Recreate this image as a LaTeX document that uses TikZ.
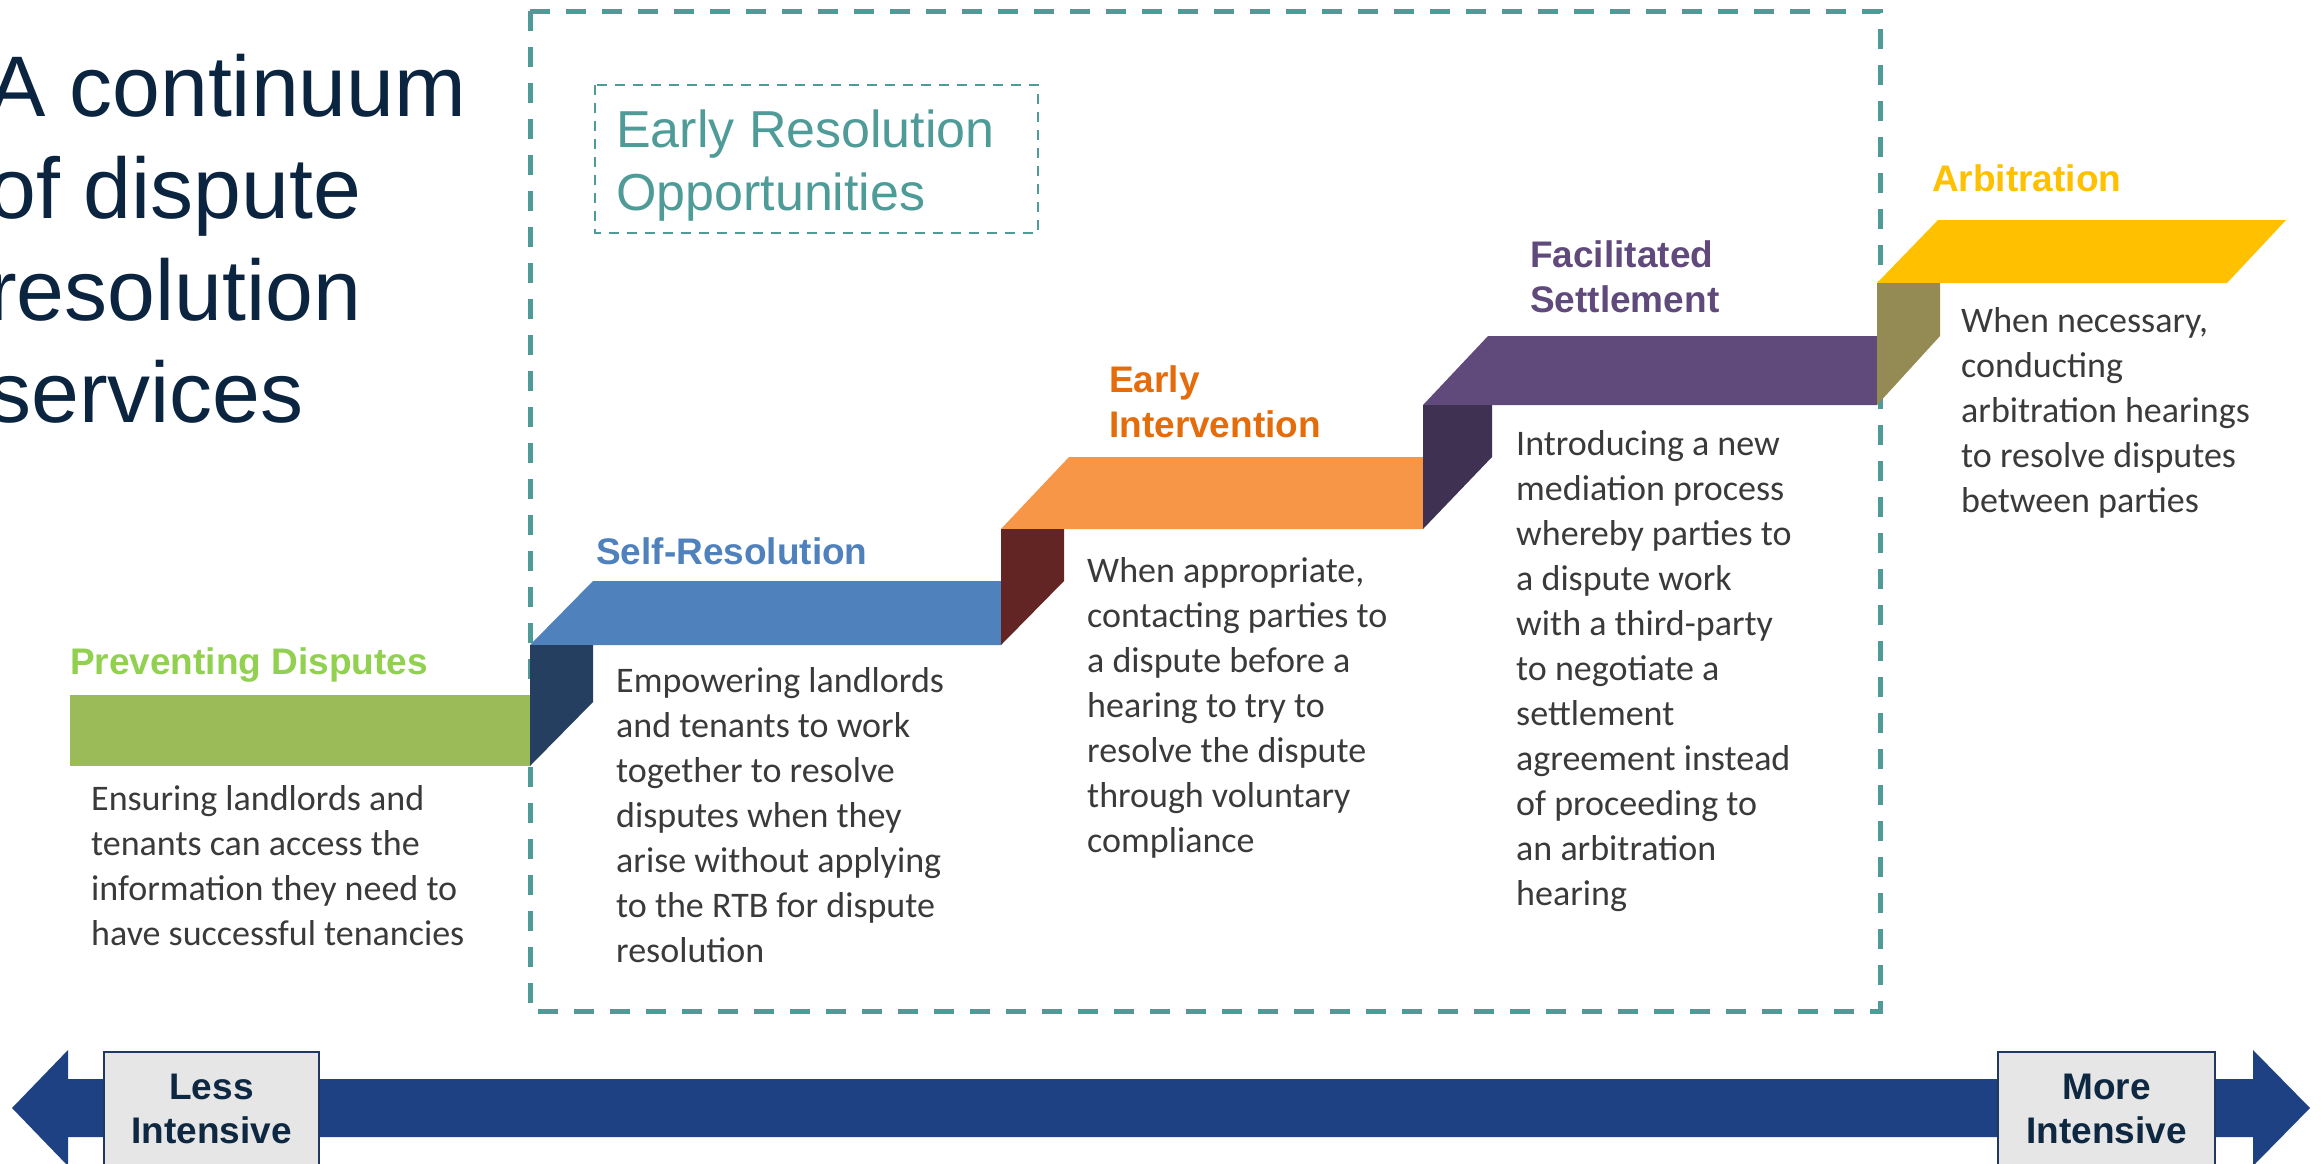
\documentclass[tikz,border=0pt]{standalone}
\usepackage{fontspec}
\setmainfont{Liberation Sans}
\newfontfamily\bodyfont{Carlito}

\definecolor{titlenavy}{HTML}{0B2540}
\definecolor{teal}{HTML}{4F9B98}
\definecolor{bodygray}{HTML}{3A3A3A}
\definecolor{arrownavy}{HTML}{1D4182}
\definecolor{boxnavy}{HTML}{1F3864}
\definecolor{boxgray}{HTML}{E6E6E6}
\definecolor{labelnavy}{HTML}{0E2841}
% step colours
\definecolor{greenface}{HTML}{9BBB59}
\definecolor{greenlabel}{HTML}{92D050}
\definecolor{navyriser}{HTML}{253F60}
\definecolor{blueface}{HTML}{4F81BD}
\definecolor{redriser}{HTML}{632523}
\definecolor{orangeface}{HTML}{F79646}
\definecolor{orangelabel}{HTML}{E46C0A}
\definecolor{purpleriser}{HTML}{3F3151}
\definecolor{purpleface}{HTML}{604A7B}
\definecolor{oliveriser}{HTML}{948A54}
\definecolor{yellowface}{HTML}{FFC000}

% multi-line nodes are placed by the baseline of their last line
\tikzset{
  txt/.style={inner sep=0pt, anchor=base west, align=left},
  body/.style={txt, font=\bodyfont\fontsize{36}{45}\selectfont, text=bodygray},
  steplabel/.style={txt, font=\bfseries\fontsize{37}{45}\selectfont},
  endbox/.style={draw=boxnavy, line width=2.5pt, fill=boxgray},
  endlabel/.style={inner sep=0pt, anchor=base, align=center,
    font=\bfseries\fontsize{37}{44}\selectfont, text=labelnavy},
}

\begin{document}
\begin{tikzpicture}[x=1pt,y=-1pt]
\useasboundingbox (0,0) rectangle (2323,1163);
\clip (0,0) rectangle (2323,1163);

% title
\node[txt, font=\fontsize{86}{102}\selectfont, text=titlenavy] (title) at (-12,422)
  {A continuum\\of dispute\\resolution\\services};

% early resolution frame
\draw[teal, line width=5pt, dash pattern=on 20pt off 16pt] (530,11) rectangle (1880,1011);
\draw[teal, line width=2.5pt, dash pattern=on 10pt off 8pt] (595,85) rectangle (1038,233);
\node[txt, font=\fontsize{52}{63}\selectfont, text=teal] (early) at (616,210)
  {Early Resolution\\Opportunities};

% staircase ribbon
\fill[greenface] (70,695) rectangle (530,766);
\fill[blueface] (530,645) -- (593,581) -- (1001,581) -- (1001,645) -- cycle;
\fill[navyriser] (530,645) -- (593,645) -- (593,702) -- (530,766) -- cycle;
\fill[orangeface] (1001,529) -- (1069,457) -- (1423,457) -- (1423,529) -- cycle;
\fill[redriser] (1001,529) -- (1064,529) -- (1064,581) -- (1001,645) -- cycle;
\fill[purpleface] (1423,405) -- (1488,336) -- (1877,336) -- (1877,405) -- cycle;
\fill[purpleriser] (1423,405) -- (1492,405) -- (1492,457) -- (1423,529) -- cycle;
\fill[yellowface] (1877,283) -- (1938,220) -- (2286,220) -- (2227,283) -- cycle;
\fill[oliveriser] (1877,283) -- (1940,283) -- (1940,336) -- (1877,405) -- cycle;

% step titles
\node[steplabel, text=greenlabel] (l1) at (70,674) {Preventing Disputes};
\node[steplabel, text=blueface] (l2) at (596,564) {Self-Resolution};
\node[steplabel, text=orangelabel] (l3) at (1109,437) {Early\\Intervention};
\node[steplabel, text=purpleface] (l4) at (1530,312) {Facilitated\\Settlement};
\node[steplabel, text=yellowface] (l5) at (1932,191) {Arbitration};

% step descriptions
\node[body] (d1) at (91,945)
  {Ensuring landlords and\\tenants can access the\\information they need to\\have successful tenancies};
\node[body] (d2) at (616,962)
  {Empowering landlords\\and tenants to work\\together to resolve\\disputes when they\\arise without applying\\to the RTB for dispute\\resolution};
\node[body] (d3) at (1087,852)
  {When appropriate,\\contacting parties to\\a dispute before a\\hearing to try to\\resolve the dispute\\through voluntary\\compliance};
\node[body] (d4) at (1516,905)
  {Introducing a new\\mediation process\\whereby parties to\\a dispute work\\with a third-party\\to negotiate a\\settlement\\agreement instead\\of proceeding to\\an arbitration\\hearing};
\node[body] (d5) at (1961,512)
  {When necessary,\\conducting\\arbitration hearings\\to resolve disputes\\between parties};

% intensity scale
\fill[arrownavy] (12,1108) -- (68,1050) -- (68,1079) -- (2253,1079) -- (2253,1050)
  -- (2310,1108) -- (2253,1166) -- (2253,1137) -- (68,1137) -- (68,1166) -- cycle;
\draw[endbox] (104,1052) rectangle (319,1180);
\draw[endbox] (1998,1052) rectangle (2215,1180);
\node[endlabel] (less) at (211.5,1143) {Less\\Intensive};
\node[endlabel] (more) at (2106.5,1143) {More\\Intensive};
\end{tikzpicture}
\end{document}
